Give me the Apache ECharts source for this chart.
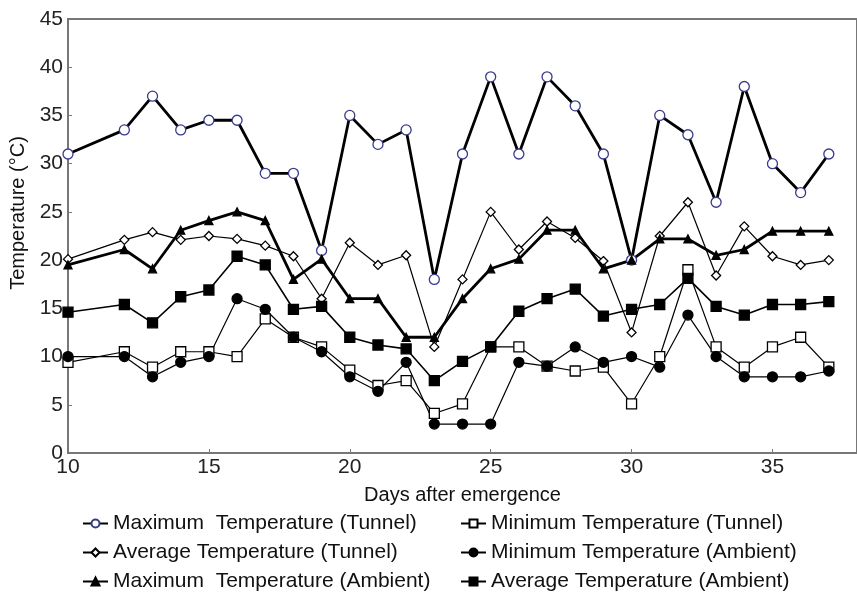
<!DOCTYPE html>
<html>
<head>
<meta charset="utf-8">
<script src="https://cdn.jsdelivr.net/npm/echarts@6/dist/echarts.min.js"></script>
<style>
    html, body { margin: 0; padding: 0; background: #fff; }
    #main { width: 857px; height: 593px; }
</style>
</head>
<body>
<div id="main"></div>
<script>
var days = [10, 12, 13, 14, 15, 16, 17, 18, 19, 20, 21, 22, 23, 24, 25, 26, 27, 28, 29, 30, 31, 32, 33, 34, 35, 36, 37];

var maxTunnel  = [31, 33.5, 37, 33.5, 34.5, 34.5, 29, 29, 21, 35, 32, 33.5, 18, 31, 39, 31, 39, 36, 31, 20, 35, 33, 26, 38, 30, 27, 31];
var avgTunnel  = [20.1, 22.1, 22.9, 22.1, 22.5, 22.2, 21.5, 20.4, 16, 21.8, 19.5, 20.5, 11, 18, 25, 21.1, 24, 22.3, 19.9, 12.5, 22.5, 26, 18.4, 23.5, 20.4, 19.5, 20];
var maxAmbient = [19.5, 21.1, 19.1, 23.1, 24.1, 25, 24.1, 18, 20.1, 16, 16, 12, 12, 16, 19.1, 20.1, 23.1, 23.1, 19.1, 20, 22.2, 22.2, 20.5, 21.1, 23, 23, 23];
var minTunnel  = [9.4, 10.5, 8.9, 10.5, 10.5, 10, 13.9, 12, 11, 8.6, 7, 7.5, 4.1, 5.1, 11, 11, 9, 8.5, 8.9, 5.1, 10, 19, 11, 8.9, 11, 12, 8.9];
var minAmbient = [10, 10, 7.9, 9.4, 10, 16, 14.9, 12, 10.5, 7.9, 6.4, 9.4, 3, 3, 3, 9.4, 9, 11, 9.4, 10, 8.9, 14.3, 10, 7.9, 7.9, 7.9, 8.5];
var avgAmbient = [14.6, 15.4, 13.5, 16.2, 16.9, 20.4, 19.5, 14.9, 15.2, 12, 11.2, 10.8, 7.5, 9.5, 11, 14.7, 16, 17, 14.2, 14.9, 15.4, 18.1, 15.2, 14.3, 15.4, 15.4, 15.7];

var leftNames  = ['Maximum  Temperature (Tunnel)', 'Average Temperature (Tunnel)', 'Maximum  Temperature (Ambient)'];
var rightNames = ['Minimum Temperature (Tunnel)', 'Minimum Temperature (Ambient)', 'Average Temperature (Ambient)'];

var font = 'Liberation Sans, Arial, sans-serif';

function pairs(vals) {
    return days.map(function(d, i) { return [d, vals[i]]; });
}

function line(name, vals, symbol, size, width, fill, stroke) {
    return {
        name: name,
        type: 'line',
        data: pairs(vals),
        symbol: symbol,
        symbolSize: size,
        showAllSymbol: true,
        lineStyle: { color: '#000', width: width },
        itemStyle: { color: fill, borderColor: stroke, borderWidth: 1.3, opacity: 1 },
        emphasis: { disabled: true }
    };
}

var myChart = echarts.init(document.getElementById('main'));

var legendBase = {
    orient: 'vertical',
    top: 508, height: 100,
    itemWidth: 25, itemHeight: 10, itemGap: 8,
    textStyle: { fontFamily: font, fontSize: 21, color: '#111' }
};

var option = {
    animation: false,
    grid: {
        left: 67, top: 19, right: -2, bottom: 140,
        show: true, borderColor: '#777', borderWidth: 2
    },
    legend: [
        Object.assign({ data: leftNames, left: 77 }, legendBase),
        Object.assign({ data: rightNames, left: 455 }, legendBase)
    ],
    xAxis: {
        type: 'value',
        min: 10, max: 38, interval: 5,
        name: 'Days after emergence',
        nameLocation: 'middle', nameGap: 32,
        nameTextStyle: { fontFamily: font, fontSize: 20, color: '#111' },
        axisLine: { lineStyle: { color: '#777', width: 2 } },
        axisTick: { inside: true, length: 4, lineStyle: { color: '#777' } },
        axisLabel: { fontFamily: font, fontSize: 21, color: '#222', margin: 4, showMaxLabel: false },
        splitLine: { show: false }
    },
    yAxis: {
        type: 'value',
        min: 0, max: 45, interval: 5,
        name: 'Temperature (°C)',
        nameLocation: 'middle', nameGap: 40,
        nameTextStyle: { fontFamily: font, fontSize: 20, color: '#111', padding: [0, 0, 0, 46] },
        axisLine: { show: true, lineStyle: { color: '#777', width: 2 } },
        axisTick: { show: true, inside: true, length: 4, lineStyle: { color: '#777' } },
        axisLabel: { fontFamily: font, fontSize: 21, color: '#222', margin: 5 },
        splitLine: { show: false }
    },
    series: [
        line(leftNames[0], maxTunnel, 'circle', 10, 2.8, '#fff', '#3a3a8c'),
        line(leftNames[1], avgTunnel, 'diamond', 9, 1.2, '#fff', '#000'),
        line(leftNames[2], maxAmbient, 'triangle', 8, 2.8, '#000', '#000'),
        line(rightNames[0], minTunnel, 'rect', 10, 1.2, '#fff', '#000'),
        line(rightNames[1], minAmbient, 'circle', 10, 1.2, '#000', '#000'),
        line(rightNames[2], avgAmbient, 'rect', 10, 1.6, '#000', '#000')
    ]
};

myChart.setOption(option);
</script>
</body>
</html>
